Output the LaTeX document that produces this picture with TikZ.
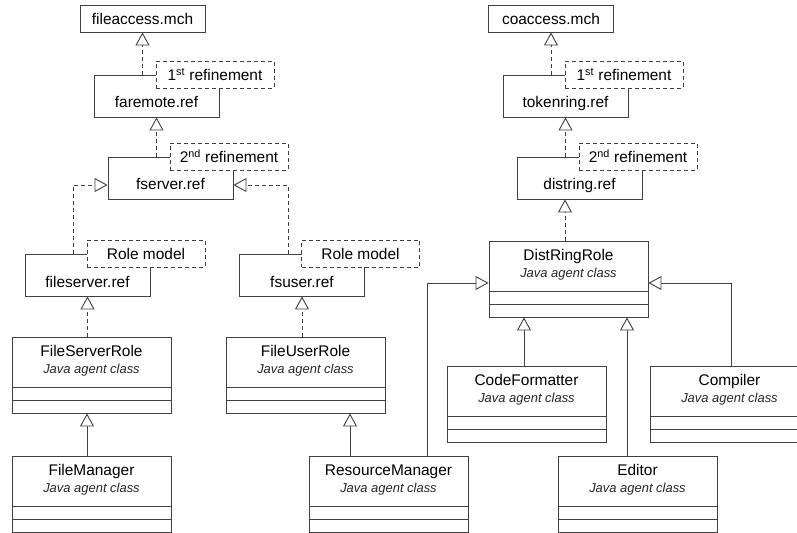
\documentclass[tikz,border=0pt]{standalone}
\usepackage{fontspec}
\setmainfont{Liberation Sans}
\usetikzlibrary{arrows.meta,positioning,calc}
\definecolor{umlgray}{RGB}{64,64,64}
\tikzset{
  modbox/.style={draw=umlgray,fill=white,line width=.9bp,minimum width=125bp,inner sep=0pt,
                 font=\fontsize{15.5}{18}\selectfont},
  mchbox/.style={modbox,minimum height=27bp,text height=12bp,text depth=0bp},
  refbox/.style={modbox,minimum height=42bp,text height=24bp,text depth=0bp},
  note/.style={draw=umlgray,fill=white,line width=.9bp,dash pattern=on 4bp off 3bp,
               minimum width=118bp,minimum height=27bp,inner sep=0pt,text height=13bp,text depth=0bp,
               font=\fontsize{15.5}{18}\selectfont,anchor=north west},
  cls/.style={draw=umlgray,fill=white,line width=.9bp,minimum width=159bp,minimum height=76bp,inner sep=0pt,
              path picture={
                \draw[umlgray,line width=.9bp]
                  ([yshift=26bp]path picture bounding box.south west) -- ([yshift=26bp]path picture bounding box.south east)
                  ([yshift=13bp]path picture bounding box.south west) -- ([yshift=13bp]path picture bounding box.south east);}},
  ttl/.style={font=\fontsize{15.5}{18}\selectfont,inner sep=0pt,anchor=base},
  sub/.style={font=\fontsize{13}{15}\selectfont\itshape,text=black!85,inner sep=0pt,anchor=base},
  gen/.style={-{Triangle[length=13bp,width=14bp,fill=white]},draw=umlgray,line width=.9bp},
  dep/.style={gen,dash pattern=on 4bp off 3bp},
}

\begin{document}
\begin{tikzpicture}[x=1bp,y=-1bp]
  \useasboundingbox (0,0) rectangle (797,533);
  % B modules, left chain
  \node[mchbox] (fileaccess) at (142.5,18.5){fileaccess.mch};
  \node[refbox] (faremote) at (156.5,96){faremote.ref};
  \node[refbox] (fserver) at (170.5,178){fserver.ref};
  \node[refbox] (fileserver) at (87.5,275){fileserver.ref};
  \node[refbox] (fsuser) at (302,275){fsuser.ref};
  % B modules, right chain
  \node[mchbox] (coaccess) at (551,18.5){coaccess.mch};
  \node[refbox] (tokenring) at (565.5,96){tokenring.ref};
  \node[refbox] (distring) at (579.5,178){distring.ref};
  % dashed notes
  \node[note] (n-far) at ([xshift=62bp,yshift=14bp]faremote.north west){1\textsuperscript{st} refinement};
  \node[note] (n-fse) at ([xshift=62bp,yshift=14bp]fserver.north west){2\textsuperscript{nd} refinement};
  \node[note] (n-fsr) at ([xshift=62bp,yshift=14bp]fileserver.north west){Role model};
  \node[note] (n-fsu) at ([xshift=62bp,yshift=14bp]fsuser.north west){Role model};
  \node[note] (n-tok) at ([xshift=62bp,yshift=14bp]tokenring.north west){1\textsuperscript{st} refinement};
  \node[note] (n-dis) at ([xshift=62bp,yshift=14bp]distring.north west){2\textsuperscript{nd} refinement};
  % Java agent classes
  \foreach \n/\x/\y/\t in {fsr/91.5/375/FileServerRole, fm/91.5/494/FileManager,
                           fur/305.5/375/FileUserRole, rm/388.5/494/ResourceManager,
                           drr/568.5/279/DistRingRole, cf/526.5/404/CodeFormatter,
                           comp/729.5/404/Compiler, ed/637.5/494/Editor}{
    \node[cls] (\n) at (\x,\y){};
    \node[ttl] (\n-t) at ([yshift=-20bp]\n.north){\t};
    \node[sub] (\n-s) at ([yshift=-37bp]\n.north){Java agent class};
  }
  % refinement links
  \draw[dep] (fileaccess.south |- faremote.north) -- (fileaccess.south);
  \draw[dep] (faremote.south |- fserver.north) -- (faremote.south);
  \draw[dep] ([xshift=-14.5bp]fileserver.north) |- ([yshift=-7bp]fserver.west);
  \draw[dep] ([xshift=-14bp]fsuser.north) |- ([yshift=-7bp]fserver.east);
  \draw[dep] (coaccess.south |- tokenring.north) -- (coaccess.south);
  \draw[dep] (tokenring.south |- distring.north) -- (tokenring.south);
  \draw[dep] (fileserver.south |- fsr.north) -- (fileserver.south);
  \draw[dep] (fsuser.south |- fur.north) -- (fsuser.south);
  \coordinate (drr-up) at ([xshift=-3.5bp]drr.north);
  \draw[dep] (drr-up) -- (drr-up |- distring.south);
  % inheritance
  \coordinate (fm-up) at ([xshift=-4.5bp]fm.north);
  \draw[gen] (fm-up) -- (fm-up |- fsr.south);
  \coordinate (rm-l) at ([xshift=-38.5bp]rm.north);
  \draw[gen] (rm-l) -- (rm-l |- fur.south);
  \draw[gen] ([xshift=38.5bp]rm.north) |- ([yshift=-4bp]drr.west);
  \coordinate (cf-up) at ([xshift=-2.5bp]cf.north);
  \draw[gen] (cf-up) -- (cf-up |- drr.south);
  \coordinate (ed-up) at ([xshift=-10.5bp]ed.north);
  \draw[gen] (ed-up) -- (ed-up |- drr.south);
  \draw[gen] ([xshift=1.5bp]comp.north) |- ([yshift=-4bp]drr.east);
\end{tikzpicture}
\end{document}
